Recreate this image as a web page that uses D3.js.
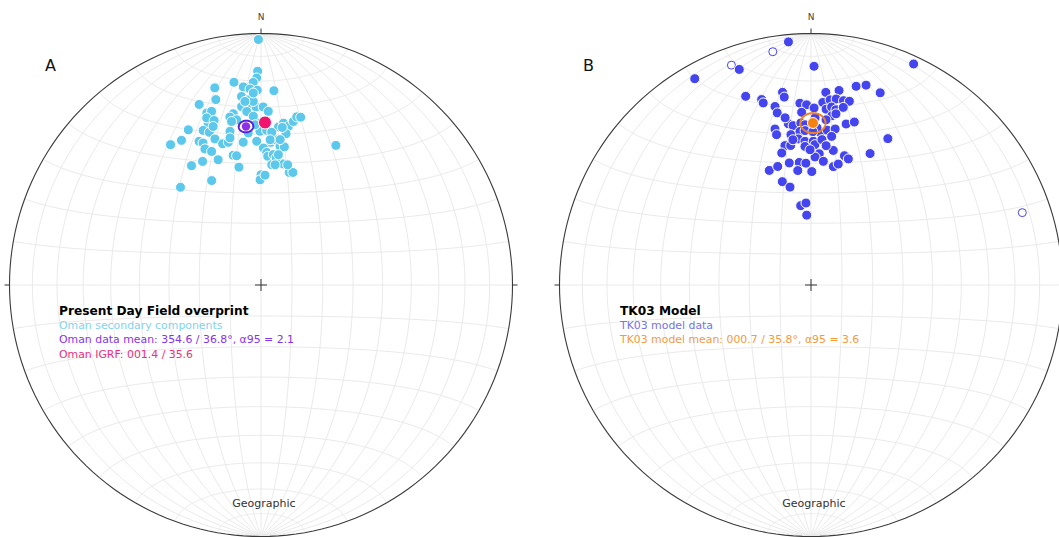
<!DOCTYPE html>
<html>
<head>
<meta charset="utf-8">
<script src="https://cdn.jsdelivr.net/npm/d3@7"></script>
<style>
  html, body { margin: 0; padding: 0; background: #fff; overflow: hidden; }
  text { font-family: "DejaVu Sans", Verdana, sans-serif; }
</style>
</head>
<body>
<svg id="chart" width="1059" height="537"></svg>
<script>
// Panel A: Oman secondary components (declination / inclination, degrees)
const omanDec = [359.4, 359.1, 358.8, 357.8, 352.4, 346.8, 354.9, 356.8, 358.9, 3.8,
  354.1, 356.1, 346.3, 341.1, 353.8, 356.5, 358.4, 0.7, 2.4, 342.5,
  344.1, 350.8, 355.3, 349.5, 351.6, 341.9, 342.0, 359.0, 357.4, 6.3,
  7.9, 9.8, 11.2, 12.0, 13.3, 9.4, 334.9, 339.5, 341.3, 348.6,
  355.2, 359.6, 2.1, 327.2, 331.2, 336.7, 337.8, 342.5, 344.8, 347.1,
  348.1, 352.9, 358.3, 3.9, 5.5, 7.8, 28.2, 337.6, 339.7, 1.0,
  2.5, 3.0, 5.4, 347.9, 341.1, 334.7, 329.8, 349.4, 5.1, 8.0,
  10.4, 14.1, 15.8, 0.0, 359.5, 334.7, 320.5, 6.8, 344.1, 349.8,
  343.2, 349.3, 9.6, 357.6, 355.0, 357.7, 357.9, 7.7, 4.0, 3.6,
  7.5, 7.6, 12.5, 6.7, 2.1];
const omanInc = [2.7, 16.1, 18.8, 20.5, 19.8, 20.6, 22.0, 23.0, 23.6, 23.6,
  25.6, 27.1, 25.1, 25.1, 29.4, 29.8, 29.9, 29.9, 31.5, 29.1,
  29.0, 31.6, 31.4, 32.6, 34.0, 33.0, 30.8, 35.8, 33.3, 36.9,
  35.3, 36.2, 34.1, 32.2, 32.0, 38.9, 32.4, 34.7, 36.1, 37.7,
  39.2, 38.8, 38.4, 34.0, 34.7, 37.8, 38.9, 39.0, 41.4, 41.4,
  40.0, 42.3, 42.3, 42.6, 41.5, 43.6, 37.1, 41.1, 42.8, 44.7,
  46.2, 47.5, 46.8, 46.2, 46.3, 44.8, 44.3, 50.6, 50.3, 48.9,
  49.5, 51.9, 51.6, 53.9, 55.6, 52.1, 48.3, 47.8, 32.5, 34.3,
  34.5, 46.6, 43.6, 27.8, 27.6, 24.6, 36.4, 36.9, 39.0, 41.7,
  41.3, 46.6, 49.5, 50.2, 54.0];

// Panel B: TK03 model directions (negative inclination = upper hemisphere)
const tk03Dec = [354.7, 350.7, 340.1, 341.6, 330.6, 0.8, 24.9, 71.1, 27.7, 24.2,
  19.8, 12.8, 15.4, 340.9, 351.6, 351.9, 345.1, 345.3, 348.6, 348.9,
  4.4, 8.2, 356.5, 358.6, 1.0, 3.7, 5.9, 7.7, 10.0, 11.8,
  4.9, 6.6, 8.1, 10.3, 356.9, 7.0, 8.3, 352.0, 353.6, 356.4,
  357.9, 12.3, 14.9, 347.0, 347.1, 352.4, 355.9, 357.8, 3.7, 6.0,
  8.8, 7.9, 349.4, 351.7, 355.0, 357.6, 0.9, 357.5, 1.6, 9.4,
  347.5, 3.6, 1.8, 14.5, 16.5, 354.5, 357.6, 349.9, 5.7, 10.7,
  12.7, 340.0, 344.3, 353.4, 0.4, 344.5, 347.9, 352.6, 356.5, 356.5,
  1.4, 5.2, 2.2, 351.2, 352.9, 0.7, 4.3, 359.6, 6.2];
const tk03Inc = [3.3, -6.7, -7.8, 10.6, 6.5, 14.1, 3.5, -12.2, 34.6, 42.2,
  19.9, 20.1, 18.7, 21.7, 23.6, 25.5, 24.7, 26.1, 28.4, 30.9,
  24.2, 22.9, 28.4, 29.1, 30.3, 28.1, 26.9, 26.3, 26.5, 26.3,
  30.5, 29.5, 30.3, 29.0, 31.8, 32.7, 31.8, 35.5, 36.4, 35.7,
  36.4, 34.8, 33.4, 36.5, 38.6, 39.5, 38.7, 38.5, 39.3, 38.1,
  37.3, 40.1, 43.0, 43.3, 41.3, 42.3, 42.3, 44.1, 43.5, 44.9,
  45.3, 46.6, 47.8, 45.9, 46.6, 49.5, 49.9, 49.2, 49.1, 50.4,
  49.2, 49.9, 49.5, 52.2, 52.8, 54.9, 57.3, 64.0, 63.3, 67.3,
  33.9, 34.4, 37.5, 33.2, 41.4, 38.9, 41.6, 45.3, 43.6];

// Mean directions: [declination, inclination, alpha95]
const omanMean = [354.6, 36.8, 2.1];
const omanIGRF = [1.4, 35.6];
const tk03Mean = [0.7, 35.8, 3.6];

const legendA = ["Present Day Field overprint", "Oman secondary components",
  "Oman data mean: 354.6 / 36.8°, α95 = 2.1", "Oman IGRF: 001.4 / 35.6"];
const legendB = ["TK03 Model", "TK03 model data", "TK03 model mean: 000.7 / 35.8°, α95 = 3.6"];

const svg = d3.select("#chart");
const R = 251.5;
const CY = 285;

// declination/inclination -> lon/lat on a sphere whose view centre is straight down
function toLonLat(dec, inc) {
  const rad = Math.PI / 180;
  const I = Math.abs(inc) * rad, D = dec * rad;
  const x = Math.cos(I) * Math.sin(D), y = Math.cos(I) * Math.cos(D), z = Math.sin(I);
  return [Math.atan2(x, z) / rad, Math.asin(y) / rad];
}

function drawNet(cx, id) {
  const proj = d3.geoAzimuthalEqualArea()
    .rotate([0, 0])
    .scale(R / Math.SQRT2)
    .translate([cx, CY])
    .clipAngle(90.001)
    .precision(0.1);
  const path = d3.geoPath(proj);
  const g = svg.append("g");

  g.append("clipPath").attr("id", id)
    .append("circle").attr("cx", cx).attr("cy", CY).attr("r", R);

  // Schmidt net: great circles through N/S and small circles about the N-S axis
  const lines = [];
  d3.range(-80, 81, 10).forEach(lon => {
    lines.push(d3.range(-90, 90.001, 1).map(lat => [lon, lat]));
  });
  d3.range(-80, 81, 10).forEach(lat => {
    lines.push(d3.range(-90, 90.001, 1).map(lon => [lon, lat]));
  });
  g.append("path")
    .datum({ type: "MultiLineString", coordinates: lines })
    .attr("d", path)
    .attr("clip-path", `url(#${id})`)
    .attr("fill", "none")
    .attr("stroke", "#e9e9e9")
    .attr("stroke-width", 1);

  // primitive circle
  g.append("path")
    .datum({ type: "Sphere" })
    .attr("d", path)
    .attr("fill", "none")
    .attr("stroke", "#3a3a3a")
    .attr("stroke-width", 1.1);

  // ticks at N, E, W and centre cross
  const tick = [
    [[cx, CY - R], [cx, CY - R - 5]],
    [[cx - R, CY], [cx - R - 5, CY]],
    [[cx + R, CY], [cx + R + 5, CY]],
    [[cx - 6, CY], [cx + 6, CY]],
    [[cx, CY - 6], [cx, CY + 6]]
  ];
  g.selectAll("line.tick").data(tick).enter().append("line")
    .attr("x1", d => d[0][0]).attr("y1", d => d[0][1])
    .attr("x2", d => d[1][0]).attr("y2", d => d[1][1])
    .attr("stroke", "#333").attr("stroke-width", 1);

  g.append("text").attr("x", cx).attr("y", CY - R - 14)
    .attr("text-anchor", "middle").attr("font-size", 9).attr("fill", "#444").text("N");
  g.append("text").attr("x", cx + 3).attr("y", 507)
    .attr("text-anchor", "middle").attr("font-size", 11).attr("fill", "#333").text("Geographic");

  return { proj, path, g };
}

function drawLegend(x, lines, colors) {
  lines.forEach((t, i) => {
    svg.append("text")
      .attr("x", x).attr("y", 315 + (i === 0 ? 0 : 14.2 * i))
      .attr("font-size", i === 0 ? 12.2 : 10.9)
      .attr("font-weight", i === 0 ? "bold" : "normal")
      .attr("fill", colors[i])
      .text(t);
  });
}

// ---- Panel A ----
const A = drawNet(261, "clipA");
const ptsA = omanDec.map((d, i) => A.proj(toLonLat(d, omanInc[i])));
A.g.selectAll("circle.pt").data(ptsA).enter().append("circle")
  .attr("cx", p => p[0]).attr("cy", p => p[1]).attr("r", 5)
  .attr("fill", "#5cc8ec").attr("stroke", "#fff").attr("stroke-width", 1);

const igrfP = A.proj(toLonLat(omanIGRF[0], omanIGRF[1]));
A.g.append("circle").attr("cx", igrfP[0]).attr("cy", igrfP[1]).attr("r", 6.5)
  .attr("fill", "#f0146e").attr("stroke", "#fff").attr("stroke-width", 1);

A.g.append("path")
  .datum(d3.geoCircle().center(toLonLat(omanMean[0], omanMean[1])).radius(omanMean[2]).precision(2)())
  .attr("d", A.path).attr("fill", "#fff").attr("stroke", "#5a22d8").attr("stroke-width", 2);
const meanA = A.proj(toLonLat(omanMean[0], omanMean[1]));
A.g.append("circle").attr("cx", meanA[0]).attr("cy", meanA[1]).attr("r", 4.2)
  .attr("fill", "#8f2ee8");

svg.append("text").attr("x", 45).attr("y", 71).attr("font-size", 16).attr("fill", "#111").text("A");
drawLegend(59, legendA, ["#000", "#7fd4ef", "#8a32e6", "#ec2f7c"]);

// ---- Panel B ----
const B = drawNet(811, "clipB");
const dataB = tk03Dec.map((d, i) => ({ p: B.proj(toLonLat(d, tk03Inc[i])), up: tk03Inc[i] < 0 }));
B.g.selectAll("circle.pt").data(dataB).enter().append("circle")
  .attr("cx", d => d.p[0]).attr("cy", d => d.p[1])
  .attr("r", d => d.up ? 4 : 5)
  .attr("fill", d => d.up ? "#fff" : "#4545f0")
  .attr("stroke", d => d.up ? "#4545f0" : "#fff")
  .attr("stroke-width", 1);

B.g.append("path")
  .datum(d3.geoCircle().center(toLonLat(tk03Mean[0], tk03Mean[1])).radius(tk03Mean[2]).precision(2)())
  .attr("d", B.path).attr("fill", "none").attr("stroke", "#f28220").attr("stroke-width", 2);
const meanB = B.proj(toLonLat(tk03Mean[0], tk03Mean[1]));
B.g.append("circle").attr("cx", meanB[0]).attr("cy", meanB[1]).attr("r", 5.5)
  .attr("fill", "#f5820f").attr("stroke", "#fff").attr("stroke-width", 1);

svg.append("text").attr("x", 583).attr("y", 71).attr("font-size", 16).attr("fill", "#111").text("B");
drawLegend(620, legendB, ["#000", "#7272ee", "#f59a3c"]);
</script>
</body>
</html>
